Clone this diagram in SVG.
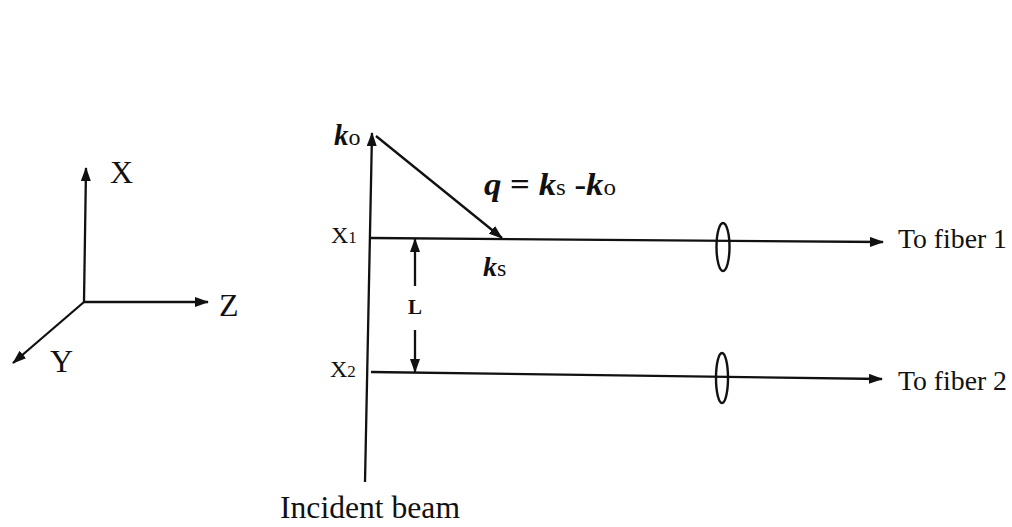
<svg xmlns="http://www.w3.org/2000/svg" width="1012" height="527" viewBox="0 0 1012 527">
<style>
.ln{stroke:#111;stroke-width:2.3;fill:none}
.t{font-family:"Liberation Serif","Times New Roman",serif;fill:#111}
.bi{font-weight:bold;font-style:italic}
.lens{stroke:#111;stroke-width:2.4;fill:none}
</style>
<defs>
<marker id="ah" viewBox="0 0 14 10" refX="13" refY="5" markerWidth="14" markerHeight="10" markerUnits="userSpaceOnUse" orient="auto">
<path d="M0,0 L14,5 L0,10 Z" fill="#111"/>
</marker>
</defs>
<rect width="1012" height="527" fill="#fff"/>
<g id="connectors">
<line id="axis-x" class="ln" x1="84" y1="302" x2="86" y2="168" marker-end="url(#ah)"/>
<line id="axis-z" class="ln" x1="84" y1="302" x2="208" y2="302" marker-end="url(#ah)"/>
<line id="axis-y" class="ln" x1="84" y1="302" x2="13" y2="363" marker-end="url(#ah)"/>
<line id="incident" class="ln" x1="365" y1="482" x2="372" y2="133" marker-end="url(#ah)"/>
<line id="q-vector" class="ln" x1="376" y1="136" x2="502" y2="238" marker-end="url(#ah)"/>
<line id="beam1" class="ln" x1="371" y1="238" x2="883" y2="242" marker-end="url(#ah)"/>
<line id="beam2" class="ln" x1="371" y1="372" x2="882" y2="379" marker-end="url(#ah)"/>
<line id="L-up" class="ln" x1="415" y1="286" x2="415" y2="239" marker-end="url(#ah)"/>
<line id="L-down" class="ln" x1="415" y1="330" x2="415" y2="372" marker-end="url(#ah)"/>
</g>
<g id="axes-labels">
<text class="t" x="110" y="183" font-size="32">X</text>
<text class="t" x="219" y="316" font-size="32">Z</text>
<text class="t" x="50" y="372" font-size="32">Y</text>
</g>
<g id="lens1"><ellipse class="lens" cx="723" cy="247" rx="6.5" ry="24"/></g>
<g id="lens2"><ellipse class="lens" cx="722" cy="378" rx="6" ry="25"/></g>
<g id="label-k0"><text class="t" x="334" y="145" font-size="29"><tspan class="bi">k</tspan><tspan font-size="24">o</tspan></text></g>
<g id="label-q"><text class="t" x="484" y="195" font-size="32" textLength="132" lengthAdjust="spacingAndGlyphs"><tspan class="bi">q</tspan><tspan font-weight="bold"> = </tspan><tspan class="bi">k</tspan><tspan font-size="23">s</tspan><tspan font-weight="bold"> -</tspan><tspan class="bi">k</tspan><tspan font-size="23">o</tspan></text></g>
<g id="label-ks"><text class="t" x="483" y="276" font-size="28"><tspan class="bi">k</tspan><tspan font-size="24">s</tspan></text></g>
<g id="label-x1"><text class="t" x="331" y="243" font-size="24">X<tspan font-size="17">1</tspan></text></g>
<g id="label-x2"><text class="t" x="330" y="377" font-size="24">X<tspan font-size="17">2</tspan></text></g>
<g id="label-L"><text class="t" x="408" y="314" font-size="21" font-weight="bold">L</text></g>
<g id="label-fiber1"><text class="t" x="898" y="248" font-size="28" textLength="109" lengthAdjust="spacingAndGlyphs">To fiber 1</text></g>
<g id="label-fiber2"><text class="t" x="898" y="390" font-size="28" textLength="109" lengthAdjust="spacingAndGlyphs">To fiber 2</text></g>
<g id="label-incident"><text class="t" x="280" y="518" font-size="32" textLength="180" lengthAdjust="spacingAndGlyphs">Incident beam</text></g>
</svg>
